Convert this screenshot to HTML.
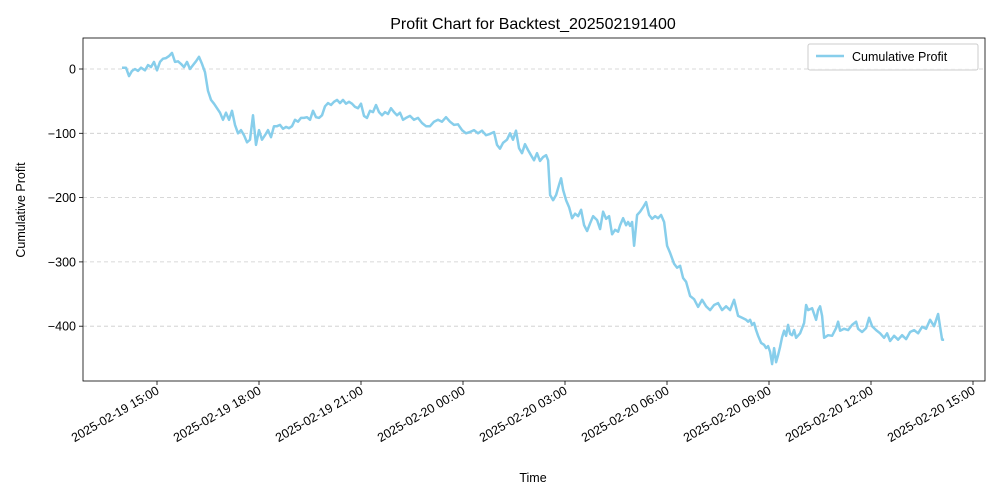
<!DOCTYPE html>
<html><head><meta charset="utf-8"><style>
html,body{margin:0;padding:0;background:#fff}
svg{display:block;font-family:"Liberation Sans","DejaVu Sans",sans-serif}
</style></head><body>
<svg id="chart" width="1000" height="500" viewBox="0 0 1000 500">
<rect x="0" y="0" width="1000" height="500" fill="#fff"/>
<text x="533" y="29" text-anchor="middle" font-size="16" fill="#000">Profit Chart for Backtest_202502191400</text>
<g id="grid"></g>
<g id="series"></g>
<rect x="83" y="38" width="902" height="343" fill="none" stroke="#000" stroke-width="0.8"/>
<g id="yticks"></g>
<g id="xticks"></g>
<text x="533" y="482" text-anchor="middle" font-size="12.5">Time</text>
<text transform="translate(25,210) rotate(-90)" text-anchor="middle" font-size="12.5">Cumulative Profit</text>
<g>
<rect x="808" y="44" width="170" height="26" rx="2" fill="#fff" fill-opacity="0.8" stroke="#ccc"/>
<line x1="816" y1="56" x2="844" y2="56" stroke="#87ceeb" stroke-width="2.5"/>
<text x="852" y="61" font-size="12.5">Cumulative Profit</text>
</g>
</svg>
<script>
const MIN_PER_STEP = 1.765;
const START_MIN_FROM_1500 = -61.8;
const stepIndex = [0,4,7,10,13,16,19,23,26,29,32,35,38,41,44,47,50,53,56,59,62,65,68,71,74,77,80,83,86,89,92,95,98,101,104,107,110,113,116,119,122,125,128,131,134,137,140,143,146,149,152,155,158,161,164,167,170,173,176,179,182,185,188,191,194,197,200,203,206,209,212,215,218,221,224,227,230,233,236,239,242,245,248,251,254,257,260,263,266,269,272,275,278,281,284,288,292,296,300,304,308,312,316,320,324,328,332,336,340,344,348,352,356,360,364,368,372,375,378,381,385,388,391,394,397,400,403,406,409,412,415,418,421,424,426,428,431,434,437,439,441,444,447,450,453,456,459,462,465,468,471,475,478,481,484,487,490,493,496,498,501,504,506,508,510,512,515,518,521,524,527,530,533,536,539,542,545,548,552,555,558,561,564,568,572,576,580,584,588,592,596,600,604,608,612,616,620,624,626,628,630,632,634,636,639,642,644,646,648,650,652,654,656,658,660,662,664,666,668,670,672,674,678,682,684,686,690,694,696,698,700,702,706,710,714,716,718,722,726,730,734,736,740,744,747,750,754,758,762,765,768,772,776,780,784,788,792,796,800,804,808,812,816,818,820,822];
const profit = [2,2,-11,-3,0,-3,2,-2,6,3,11,-2,11,16,17,20,25,11,12,8,3,11,0,6,12,19,8,-5,-34,-48,-54,-61,-68,-79,-68,-79,-65,-87,-100,-95,-103,-114,-110,-72,-118,-95,-110,-103,-95,-106,-89,-89,-87,-93,-90,-92,-89,-79,-82,-76,-76,-75,-79,-65,-75,-76,-72,-58,-53,-56,-51,-48,-53,-48,-54,-51,-54,-59,-61,-54,-73,-76,-65,-67,-56,-67,-72,-67,-70,-61,-67,-72,-68,-79,-76,-73,-79,-76,-84,-89,-89,-82,-79,-82,-75,-82,-87,-86,-95,-100,-98,-95,-100,-96,-103,-101,-98,-118,-124,-115,-110,-100,-110,-96,-123,-131,-117,-126,-134,-142,-131,-143,-137,-134,-142,-196,-204,-196,-180,-170,-188,-204,-215,-232,-225,-229,-219,-243,-252,-240,-229,-235,-249,-222,-233,-229,-257,-250,-253,-243,-232,-243,-238,-244,-238,-275,-227,-222,-215,-207,-227,-233,-229,-232,-227,-238,-275,-286,-303,-309,-306,-325,-331,-353,-358,-370,-359,-369,-375,-367,-364,-375,-369,-375,-359,-384,-387,-390,-393,-390,-398,-395,-406,-415,-426,-429,-434,-431,-440,-459,-434,-456,-445,-432,-417,-407,-415,-398,-412,-414,-406,-418,-411,-395,-367,-375,-372,-390,-375,-369,-384,-418,-414,-415,-403,-393,-407,-404,-406,-398,-393,-404,-409,-403,-387,-400,-406,-411,-418,-411,-423,-415,-421,-414,-420,-409,-406,-411,-401,-404,-390,-400,-381,-401,-421,-421];
const yTickValues = [0,-100,-200,-300,-400];
const xTickHours = [0,3,6,9,12,15,18,21,24];
const xTickLabels = ["2025-02-19 15:00","2025-02-19 18:00","2025-02-19 21:00","2025-02-20 00:00","2025-02-20 03:00","2025-02-20 06:00","2025-02-20 09:00","2025-02-20 12:00","2025-02-20 15:00"];

const NS = "http://www.w3.org/2000/svg";
const yScale = v => 69 - v * 0.643;
const xScaleMin = m => 157 + m / 60 * 34;
function mk(tag, attrs, parent){const e=document.createElementNS(NS,tag);for(const k in attrs)e.setAttribute(k,attrs[k]);parent.appendChild(e);return e;}

const grid = document.getElementById('grid'), yt = document.getElementById('yticks'), xt = document.getElementById('xticks'), ser = document.getElementById('series');
yTickValues.forEach(v=>{
  const y=yScale(v);
  const g=mk('line',{x1:83,x2:985,y1:y,y2:y,stroke:'#ccc','stroke-width':0.8,'stroke-dasharray':'4,3'},grid);
  
  
  const t=mk('line',{x1:79,x2:83,y1:y,y2:y,stroke:'#000','stroke-width':0.8},yt);
  
  
  const l=mk('text',{x:76,y:y+4.5,'text-anchor':'end','font-size':12.5},yt);
  l.textContent = v===0?'0':'\u2212'+Math.abs(v);
  
  
});
xTickHours.forEach((h,i)=>{
  const x=xScaleMin(h*60);
  const t=mk('line',{x1:x,x2:x,y1:381,y2:385,stroke:'#000','stroke-width':0.8},xt);
  
  
  const l=mk('text',{transform:`translate(${x+3},${393}) rotate(-30)`,'text-anchor':'end','font-size':12.5},xt);
  l.textContent=xTickLabels[i];
  
  
});
const n=Math.min(stepIndex.length,profit.length);
let d='';
for(let i=0;i<n;i++){
  const x=xScaleMin(START_MIN_FROM_1500+stepIndex[i]*MIN_PER_STEP), y=yScale(profit[i]);
  d+=(i?'L':'M')+x.toFixed(1)+','+y.toFixed(1);
}
const p=mk('path',{d:d,fill:'none',stroke:'#87ceeb','stroke-width':2.5,'stroke-linejoin':'round'},ser);


</script>
</body></html>
